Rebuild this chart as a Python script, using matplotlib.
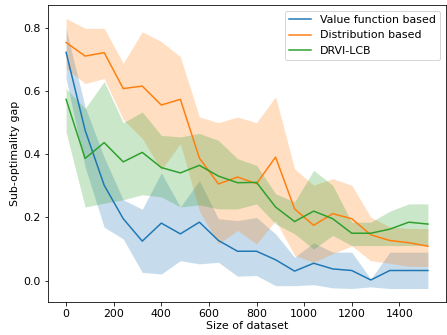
import matplotlib
matplotlib.use("Agg")
import matplotlib.pyplot as plt

# dataset sizes
sizes = [0, 80, 160, 240, 320, 400, 480, 560, 640, 720,
         800, 880, 960, 1040, 1120, 1200, 1280, 1360, 1440, 1520]

# Value function based
vf_mean = [0.723, 0.476, 0.302, 0.196, 0.125, 0.182, 0.148, 0.185, 0.127, 0.093,
           0.093, 0.066, 0.030, 0.055, 0.037, 0.032, 0.002, 0.032, 0.032, 0.032]
vf_upper = [0.797, 0.55, 0.39, 0.256, 0.226, 0.341, 0.233, 0.317, 0.196, 0.19,
            0.2, 0.148, 0.074, 0.12, 0.09, 0.09, 0.005, 0.09, 0.09, 0.09]
vf_lower = [0.64, 0.36, 0.169, 0.132, 0.026, 0.021, 0.063, 0.053, 0.058, 0.014,
            0.016, -0.016, -0.016, -0.013, -0.023, -0.025, -0.02, -0.025, -0.025, -0.025]

# Distribution based
db_mean = [0.754, 0.711, 0.722, 0.608, 0.616, 0.556, 0.574, 0.388, 0.306, 0.328,
           0.307, 0.391, 0.227, 0.175, 0.212, 0.196, 0.145, 0.127, 0.12, 0.109]
db_upper = [0.83, 0.799, 0.799, 0.688, 0.788, 0.757, 0.709, 0.518, 0.50, 0.518,
            0.50, 0.582, 0.354, 0.302, 0.323, 0.302, 0.201, 0.17, 0.165, 0.165]
db_lower = [0.672, 0.624, 0.64, 0.51, 0.45, 0.35, 0.434, 0.22, 0.116, 0.159,
            0.116, 0.19, 0.08, 0.058, 0.085, 0.11, 0.063, 0.055, 0.045, 0.045]

# DRVI-LCB
drvi_mean = [0.574, 0.387, 0.437, 0.376, 0.406, 0.358, 0.341, 0.365, 0.331, 0.310,
             0.311, 0.233, 0.187, 0.22, 0.196, 0.150, 0.150, 0.163, 0.185, 0.179]
drvi_upper = [0.608, 0.545, 0.63, 0.50, 0.534, 0.46, 0.455, 0.466, 0.444, 0.386,
              0.365, 0.275, 0.249, 0.349, 0.302, 0.185, 0.185, 0.22, 0.243, 0.243]
drvi_lower = [0.47, 0.233, 0.245, 0.256, 0.272, 0.265, 0.233, 0.24, 0.227, 0.227,
              0.243, 0.18, 0.148, 0.10, 0.143, 0.111, 0.111, 0.111, 0.111, 0.111]

series = [
    ("Value function based", "C0", vf_mean, vf_lower, vf_upper),
    ("Distribution based", "C1", db_mean, db_lower, db_upper),
    ("DRVI-LCB", "C2", drvi_mean, drvi_lower, drvi_upper),
]

plt.rcParams["font.size"] = 11

dpi = 72
fig = plt.figure(figsize=(447 / dpi, 335 / dpi), dpi=dpi)
ax = fig.add_axes([48 / 447, 1 - 302 / 335, (446 - 48) / 447, (302 - 5) / 335])

for label, color, mean, lower, upper in series:
    ax.plot(sizes, mean, color=color, label=label, linewidth=1.5, zorder=3)
    ax.fill_between(sizes, lower, upper, color=color, alpha=0.25, linewidth=0, zorder=2)

ax.set_xlabel("Size of dataset", labelpad=2)
ax.set_ylabel("Sub-optimality gap")
ax.legend(loc="upper right")

fig.savefig("out.png", dpi=dpi)
